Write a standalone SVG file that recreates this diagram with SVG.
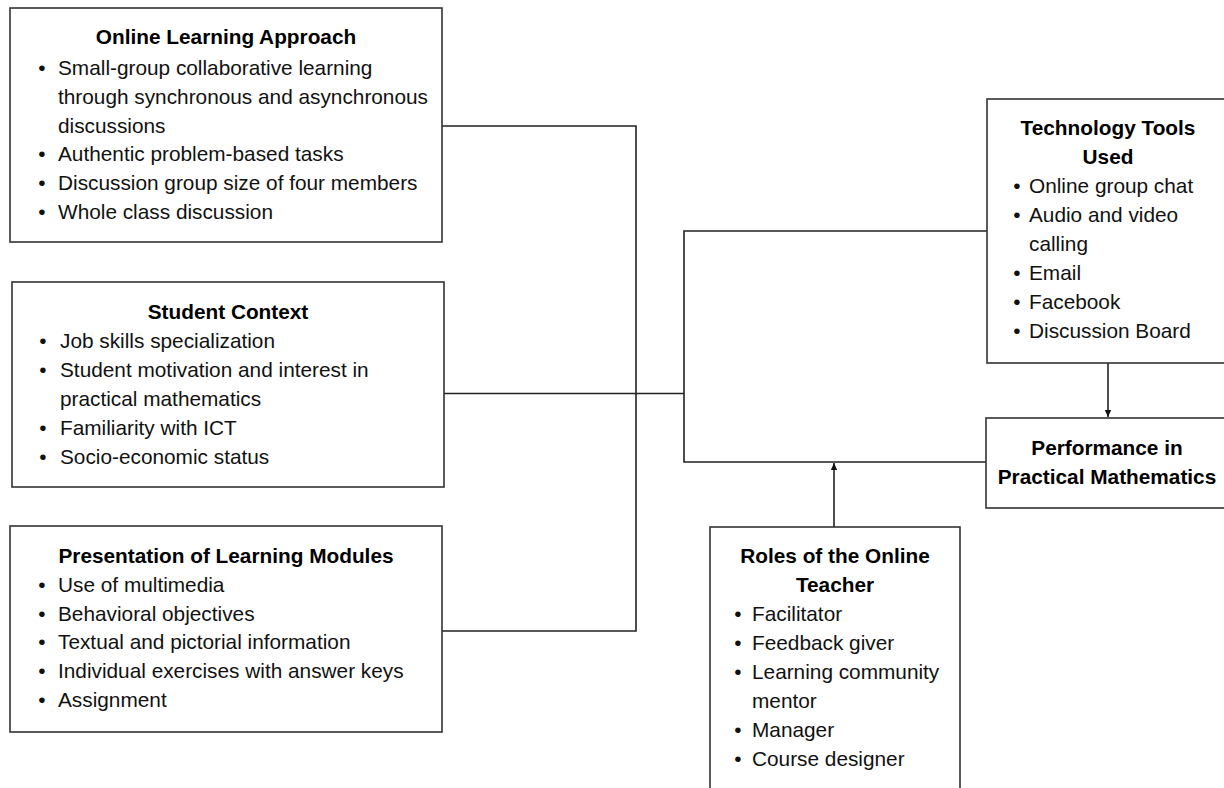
<svg xmlns="http://www.w3.org/2000/svg" width="1224" height="788" viewBox="0 0 1224 788">
  <defs>
    <style>
      .box { fill: #ffffff; stroke: #333333; stroke-width: 1.6; }
      .title { font-family: "Liberation Sans", Arial, sans-serif; font-size: 20.8px; font-weight: bold; fill: #000000; text-anchor: middle; }
      .item { font-family: "Liberation Sans", Arial, sans-serif; font-size: 20.8px; fill: #111111; }
      .dot { font-family: "Liberation Sans", Arial, sans-serif; font-size: 20.8px; fill: #111111; text-anchor: middle; }
      .link { fill: none; stroke: #222222; stroke-width: 1.6; }
    </style>
    <marker id="arrowhead" markerUnits="userSpaceOnUse" markerWidth="8" markerHeight="8" refX="7" refY="4" orient="auto">
      <path d="M0,0.8 L7,4 L0,7.2 Z" fill="#111111"/>
    </marker>
  </defs>
  <rect x="0" y="0" width="1224" height="788" fill="#ffffff"/>

  <!-- connectors -->
  <g id="connectors">
    <path class="link" d="M442,126 H636 V631 H442"/>
    <path class="link" d="M444,393.5 H684"/>
    <path class="link" d="M987,231 H684 V462 H986"/>
    <path class="link" d="M1108,363 V417" marker-end="url(#arrowhead)"/>
    <path class="link" d="M834,527 V463" marker-end="url(#arrowhead)"/>
  </g>

  <!-- Online Learning Approach -->
  <g id="online-learning-approach">
    <rect class="box" x="10" y="8" width="432" height="234"/>
    <text class="title" x="226" y="44">Online Learning Approach</text>
    <text class="dot" x="42" y="75">•</text>
    <text class="item" x="58" y="75">Small-group collaborative learning</text>
    <text class="item" x="58" y="104">through synchronous and asynchronous</text>
    <text class="item" x="58" y="133">discussions</text>
    <text class="dot" x="42" y="161">•</text>
    <text class="item" x="58" y="161">Authentic problem-based tasks</text>
    <text class="dot" x="42" y="190">•</text>
    <text class="item" x="58" y="190">Discussion group size of four members</text>
    <text class="dot" x="42" y="219">•</text>
    <text class="item" x="58" y="219">Whole class discussion</text>
  </g>

  <!-- Student Context -->
  <g id="student-context">
    <rect class="box" x="12" y="282" width="432" height="205"/>
    <text class="title" x="228" y="319">Student Context</text>
    <text class="dot" x="43" y="348">•</text>
    <text class="item" x="60" y="348">Job skills specialization</text>
    <text class="dot" x="43" y="377">•</text>
    <text class="item" x="60" y="377">Student motivation and interest in</text>
    <text class="item" x="60" y="406">practical mathematics</text>
    <text class="dot" x="43" y="435">•</text>
    <text class="item" x="60" y="435">Familiarity with ICT</text>
    <text class="dot" x="43" y="464">•</text>
    <text class="item" x="60" y="464">Socio-economic status</text>
  </g>

  <!-- Presentation of Learning Modules -->
  <g id="presentation-of-learning-modules">
    <rect class="box" x="10" y="526" width="432" height="206"/>
    <text class="title" x="226" y="563">Presentation of Learning Modules</text>
    <text class="dot" x="42" y="592">•</text>
    <text class="item" x="58" y="592">Use of multimedia</text>
    <text class="dot" x="42" y="621">•</text>
    <text class="item" x="58" y="621">Behavioral objectives</text>
    <text class="dot" x="42" y="649">•</text>
    <text class="item" x="58" y="649">Textual and pictorial information</text>
    <text class="dot" x="42" y="678">•</text>
    <text class="item" x="58" y="678">Individual exercises with answer keys</text>
    <text class="dot" x="42" y="707">•</text>
    <text class="item" x="58" y="707">Assignment</text>
  </g>

  <!-- Technology Tools Used -->
  <g id="technology-tools-used">
    <rect class="box" x="987" y="99" width="242" height="264"/>
    <text class="title" x="1108" y="135">Technology Tools</text>
    <text class="title" x="1108" y="164">Used</text>
    <text class="dot" x="1017" y="193">•</text>
    <text class="item" x="1029" y="193">Online group chat</text>
    <text class="dot" x="1017" y="222">•</text>
    <text class="item" x="1029" y="222">Audio and video</text>
    <text class="item" x="1029" y="251">calling</text>
    <text class="dot" x="1017" y="280">•</text>
    <text class="item" x="1029" y="280">Email</text>
    <text class="dot" x="1017" y="309">•</text>
    <text class="item" x="1029" y="309">Facebook</text>
    <text class="dot" x="1017" y="338">•</text>
    <text class="item" x="1029" y="338">Discussion Board</text>
  </g>

  <!-- Performance in Practical Mathematics -->
  <g id="performance">
    <rect class="box" x="986" y="418" width="243" height="90"/>
    <text class="title" x="1107" y="455">Performance in</text>
    <text class="title" x="1107" y="484">Practical Mathematics</text>
  </g>

  <!-- Roles of the Online Teacher -->
  <g id="roles-of-online-teacher">
    <rect class="box" x="710" y="527" width="250" height="280"/>
    <text class="title" x="835" y="563">Roles of the Online</text>
    <text class="title" x="835" y="592">Teacher</text>
    <text class="dot" x="738" y="621">•</text>
    <text class="item" x="752" y="621">Facilitator</text>
    <text class="dot" x="738" y="650">•</text>
    <text class="item" x="752" y="650">Feedback giver</text>
    <text class="dot" x="738" y="679">•</text>
    <text class="item" x="752" y="679">Learning community</text>
    <text class="item" x="752" y="708">mentor</text>
    <text class="dot" x="738" y="737">•</text>
    <text class="item" x="752" y="737">Manager</text>
    <text class="dot" x="738" y="766">•</text>
    <text class="item" x="752" y="766">Course designer</text>
  </g>
</svg>
